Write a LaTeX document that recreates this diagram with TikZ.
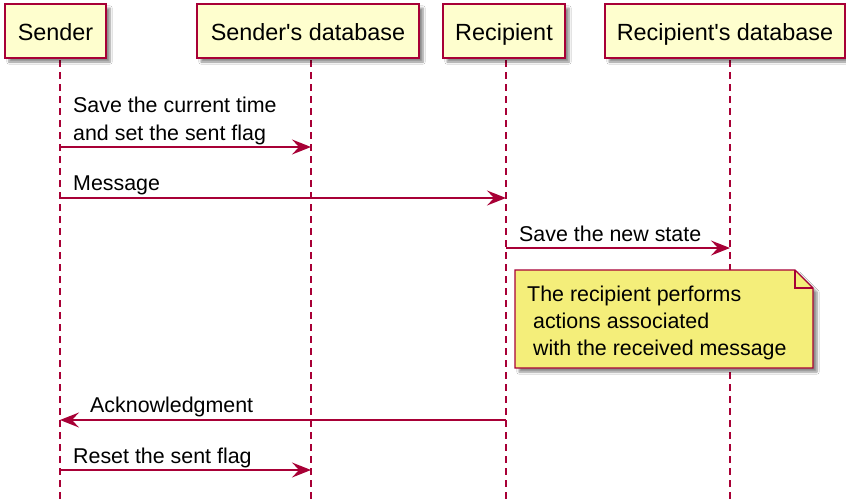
\documentclass[tikz,border=0pt]{standalone}
\usepackage{fontspec}
\setmainfont{Liberation Sans}[Ligatures=TeXOff]
\usetikzlibrary{arrows.meta,shadows.blur}

\definecolor{umlline}{HTML}{A80036}
\definecolor{umlhead}{HTML}{FEFECE}
\definecolor{umlnote}{HTML}{F4EE7A}

\tikzset{
  actorbox/.style={draw=umlline, line width=1.6pt, fill=umlhead, inner sep=0pt,
    minimum height=54pt, text height=22pt, text depth=4pt,
    font=\fontsize{23.4}{27}\selectfont,
    blur shadow={shadow xshift=4pt, shadow yshift=-4pt, shadow blur steps=6, shadow opacity=45}},
  lifeline/.style={umlline, line width=1.4pt, dash pattern=on 7pt off 5pt},
  msg/.style={umlline, line width=1.6pt, -{Stealth[length=19pt, width=15pt, inset=7pt]}},
  msgtext/.style={anchor=base west, inner sep=0pt, font=\fontsize{21.4}{27}\selectfont},
  notetext/.style={anchor=base west, inner sep=0pt, font=\fontsize{21.4}{27}\selectfont}
}

\begin{document}
\begin{tikzpicture}[x=1pt, y=-1pt]
\useasboundingbox (0,0) rectangle (846,501);
\fill[white] (0,0) rectangle (846,501);

% lifelines
\foreach \n/\x in {ls/60, lsd/311, lr/506, lrd/730}{
  \coordinate (\n top) at (\x,60);
  \coordinate (\n bot) at (\x,501);
  \draw[lifeline] (\n top) -- (\n bot);
}

% participants
\node[actorbox, minimum width=101pt] (sender) at (55.5,31) {Sender};
\node[actorbox, minimum width=222pt] (sdb) at (308,31) {Sender's database};
\node[actorbox, minimum width=122pt] (recip) at (504,31) {Recipient};
\node[actorbox, minimum width=240pt] (rdb) at (725,31) {Recipient's database};

% message end points on the lifelines
\coordinate (m1a) at (60,147);  \coordinate (m1b) at (311,147);
\coordinate (m2a) at (60,198);  \coordinate (m2b) at (506,198);
\coordinate (m3a) at (506,248); \coordinate (m3b) at (730,248);
\coordinate (m4a) at (506,420); \coordinate (m4b) at (60,420);
\coordinate (m5a) at (60,470);  \coordinate (m5b) at (311,470);

\draw[msg] (m1a) -- (m1b);
\node[msgtext] (t1a) at (73,112) {Save the current time};
\node[msgtext] (t1b) at (73,140) {and set the sent flag};

\draw[msg] (m2a) -- (m2b);
\node[msgtext] (t2) at (73,190) {Message};

\draw[msg] (m3a) -- (m3b);
\node[msgtext] (t3) at (519,241) {Save the new state};

% note with folded corner
\path[draw=umlline, line width=1.4pt, fill=umlnote,
  blur shadow={shadow xshift=4pt, shadow yshift=-4pt, shadow blur steps=6, shadow opacity=45}]
  (515,270) -- (795,270) -- (813,288) -- (813,368) -- (515,368) -- cycle;
\draw[umlline, line width=1.4pt, line join=miter] (795,270) -- (795,288) -- (813,288);
\node[notetext] (n1) at (527,301) {The recipient performs};
\node[notetext] (n2) at (527,328) {\ actions associated};
\node[notetext] (n3) at (527,355) {\ with the received message};

\draw[msg] (m4a) -- (m4b);
\node[msgtext] (t4) at (90,412) {Acknowledgment};

\draw[msg] (m5a) -- (m5b);
\node[msgtext] (t5) at (73,463) {Reset the sent flag};
\end{tikzpicture}
\end{document}
